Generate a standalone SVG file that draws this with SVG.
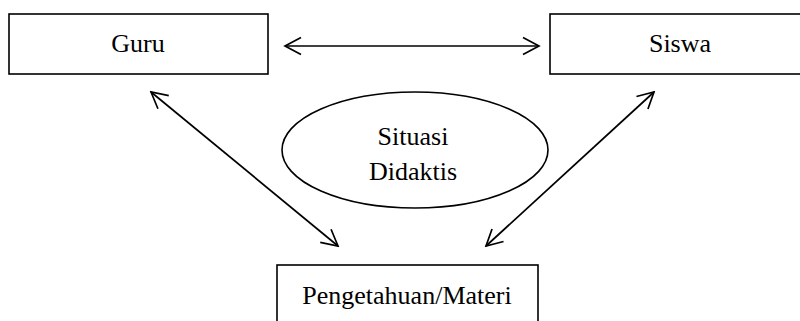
<svg xmlns="http://www.w3.org/2000/svg" width="800" height="321" viewBox="0 0 800 321">
<style>
.box{fill:#fff;stroke:#000;stroke-width:1.6}
.lbl{font-family:"Liberation Serif","Times New Roman",serif;font-size:26px;fill:#000;text-anchor:middle}
.conn{stroke:#000;stroke-width:1.7;fill:none;marker-start:url(#ah);marker-end:url(#ah)}
</style>
<defs>
<marker id="ah" viewBox="0 0 20 20" refX="18" refY="10" markerWidth="20" markerHeight="20" markerUnits="userSpaceOnUse" orient="auto-start-reverse">
<path d="M2,1.5 L18,10 L2,18.5" fill="none" stroke="#000" stroke-width="1.7"/>
</marker>
</defs>
<rect width="800" height="321" fill="#fff"/>
<g id="guru"><rect class="box" x="9" y="14" width="259" height="60"/><text class="lbl" x="138" y="52">Guru</text></g>
<g id="siswa"><rect class="box" x="550" y="14" width="260" height="60"/><text class="lbl" x="680" y="52">Siswa</text></g>
<g id="situasi"><ellipse class="box" cx="415" cy="150" rx="133" ry="58"/><text class="lbl" x="413" y="145">Situasi</text><text class="lbl" x="413" y="180">Didaktis</text></g>
<g id="materi"><rect class="box" x="277" y="265" width="261" height="70"/><text class="lbl" x="407" y="304">Pengetahuan/Materi</text></g>
<g id="connectors">
<line class="conn" x1="285" y1="46" x2="539" y2="46"/>
<line class="conn" x1="151" y1="92" x2="338" y2="246"/>
<line class="conn" x1="654" y1="92" x2="486" y2="246"/>
</g>
</svg>
